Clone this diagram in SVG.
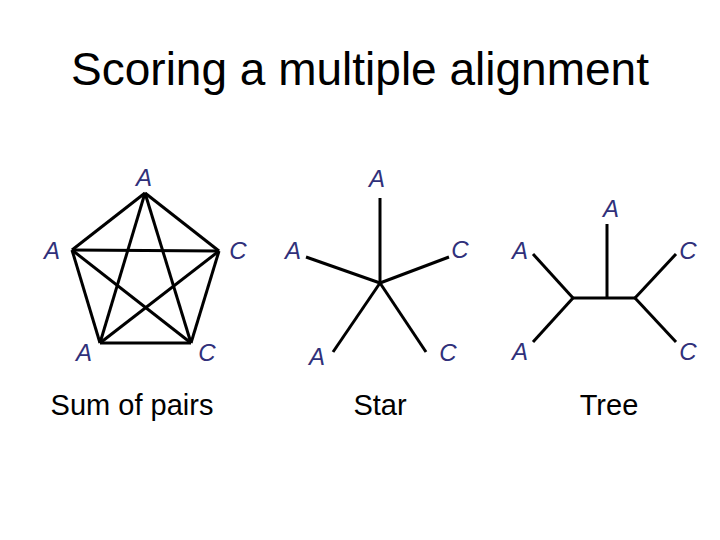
<svg xmlns="http://www.w3.org/2000/svg" width="720" height="540" viewBox="0 0 720 540">
<style>
.lbl{font-family:"Liberation Sans",Arial,sans-serif;font-style:italic;font-size:24px;fill:#30307a;text-anchor:middle}
.cap{font-family:"Liberation Sans",Arial,sans-serif;font-size:29px;fill:#000;text-anchor:middle}
.ttl{font-family:"Liberation Sans",Arial,sans-serif;font-size:46px;fill:#000;text-anchor:middle}
.e{stroke:#000;stroke-width:3;fill:none;stroke-linecap:butt}
</style>
<rect width="720" height="540" fill="#fff"/>
<text class="ttl" x="360" y="85">Scoring a multiple alignment</text>
<g id="connectors">
<g id="sum-of-pairs-edges">
<line class="e" x1="145" y1="193" x2="72" y2="250"/>
<line class="e" x1="145" y1="193" x2="219" y2="251"/>
<line class="e" x1="145" y1="193" x2="100" y2="343"/>
<line class="e" x1="145" y1="193" x2="191" y2="343"/>
<line class="e" x1="72" y1="250" x2="219" y2="251"/>
<line class="e" x1="72" y1="250" x2="100" y2="343"/>
<line class="e" x1="72" y1="250" x2="191" y2="343"/>
<line class="e" x1="219" y1="251" x2="100" y2="343"/>
<line class="e" x1="219" y1="251" x2="191" y2="343"/>
<line class="e" x1="100" y1="343" x2="191" y2="343"/>
</g>
<g id="star-edges">
<line class="e" x1="380" y1="283" x2="380" y2="198"/>
<line class="e" x1="380" y1="283" x2="306" y2="257"/>
<line class="e" x1="380" y1="283" x2="449" y2="257"/>
<line class="e" x1="380" y1="283" x2="333" y2="352"/>
<line class="e" x1="380" y1="283" x2="426" y2="352"/>
</g>
<g id="tree-edges">
<line class="e" x1="573" y1="298" x2="635" y2="298"/>
<line class="e" x1="607" y1="298" x2="607" y2="224"/>
<line class="e" x1="573" y1="298" x2="533" y2="254"/>
<line class="e" x1="573" y1="298" x2="533" y2="342"/>
<line class="e" x1="635" y1="298" x2="676" y2="254"/>
<line class="e" x1="635" y1="298" x2="676" y2="342"/>
</g>
</g>
<g id="sp-a1"><text class="lbl" x="144" y="186">A</text></g>
<g id="sp-a2"><text class="lbl" x="52" y="259">A</text></g>
<g id="sp-c1"><text class="lbl" x="238" y="259">C</text></g>
<g id="sp-a3"><text class="lbl" x="84" y="361">A</text></g>
<g id="sp-c2"><text class="lbl" x="207" y="361">C</text></g>
<g id="st-a1"><text class="lbl" x="377" y="187">A</text></g>
<g id="st-a2"><text class="lbl" x="293" y="259">A</text></g>
<g id="st-c1"><text class="lbl" x="460" y="258">C</text></g>
<g id="st-a3"><text class="lbl" x="317" y="365">A</text></g>
<g id="st-c2"><text class="lbl" x="448" y="361">C</text></g>
<g id="tr-a1"><text class="lbl" x="611" y="217">A</text></g>
<g id="tr-a2"><text class="lbl" x="520" y="259">A</text></g>
<g id="tr-a3"><text class="lbl" x="520" y="360">A</text></g>
<g id="tr-c1"><text class="lbl" x="688" y="259">C</text></g>
<g id="tr-c2"><text class="lbl" x="688" y="360">C</text></g>
<g id="captions">
<text class="cap" x="132" y="415">Sum of pairs</text>
<text class="cap" x="380" y="415">Star</text>
<text class="cap" x="609" y="415">Tree</text>
</g>
</svg>
